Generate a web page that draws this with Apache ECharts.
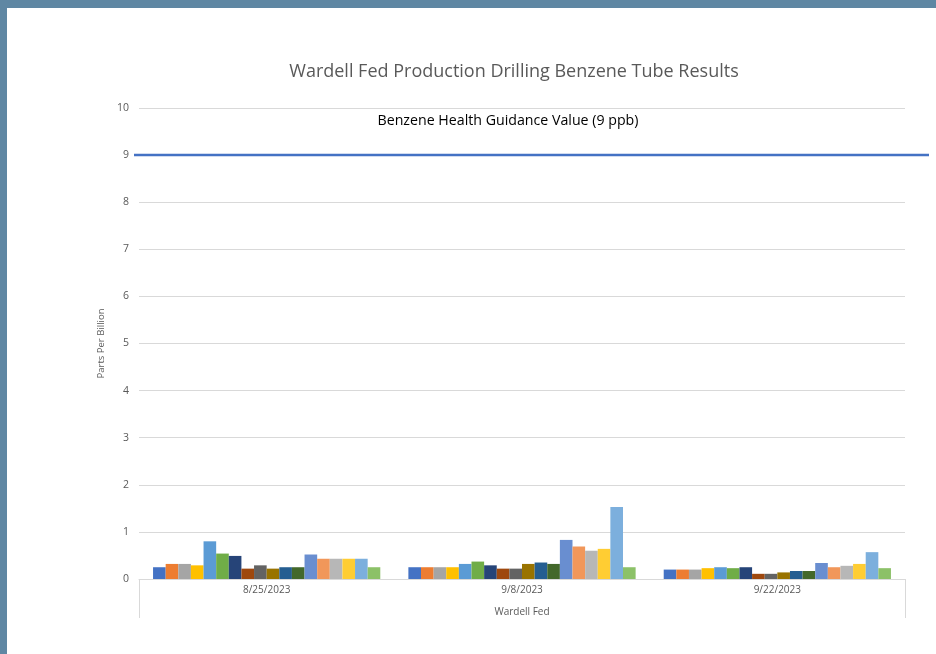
<!DOCTYPE html>
<html>
<head>
<meta charset="utf-8">
<script src="https://cdn.jsdelivr.net/npm/echarts@6/dist/echarts.min.js"></script>
<style>
  html, body { margin: 0; padding: 0; background: #ffffff; }
  #chart { position: absolute; left: 0; top: 0; width: 936px; height: 654px; }
  .frame { position: absolute; background: #5f87a3; pointer-events: none; }
</style>
</head>
<body>
<div id="chart"></div>
<div class="frame" style="left:0;top:0;width:936px;height:8px;"></div>
<div class="frame" style="left:0;top:0;width:7px;height:654px;"></div>
<script>
// ---- data ----
const dates = ['8/25/2023', '9/8/2023', '9/22/2023'];
const siteName = 'Wardell Fed';
const guidanceValue = 9;
const guidanceLabel = 'Benzene Health Guidance Value (9 ppb)';
const tubeNames = ['Tube 1','Tube 2','Tube 3','Tube 4','Tube 5','Tube 6','Tube 7','Tube 8','Tube 9',
                   'Tube 10','Tube 11','Tube 12','Tube 13','Tube 14','Tube 15','Tube 16','Tube 17','Tube 18'];
const aug25 = [0.25, 0.32, 0.32, 0.29, 0.80, 0.54, 0.49, 0.22, 0.29, 0.22, 0.25, 0.25, 0.52, 0.43, 0.43, 0.43, 0.43, 0.25];
const sep08 = [0.25, 0.25, 0.25, 0.25, 0.32, 0.37, 0.29, 0.22, 0.22, 0.32, 0.35, 0.32, 0.83, 0.69, 0.60, 0.64, 1.53, 0.25];
const sep22 = [0.20, 0.20, 0.20, 0.23, 0.25, 0.23, 0.25, 0.11, 0.11, 0.14, 0.17, 0.17, 0.34, 0.25, 0.28, 0.32, 0.57, 0.23];
const yTicks = [0, 1, 2, 3, 4, 5, 6, 7, 8, 9, 10];

const palette = ['#4472C4','#ED7D31','#A5A5A5','#FFC000','#5B9BD5','#70AD47','#264478','#9E480E','#636363',
                 '#997300','#255E91','#43682B','#698ED0','#F1975A','#B7B7B7','#FFCD33','#7CAFDD','#8CC168'];

const byDate = [aug25, sep08, sep22];
const FONT = 'Open Sans';

const barSeries = tubeNames.map((name, i) => ({
  name: name,
  type: 'bar',
  xAxisIndex: 0,
  yAxisIndex: 0,
  barGap: '0%',
  barCategoryGap: '11%',
  itemStyle: { color: palette[i] },
  data: byDate.map(arr => arr[i])
}));

const chart = echarts.init(document.getElementById('chart'), null, { renderer: 'canvas' });
chart.setOption({
  backgroundColor: '#ffffff',
  animation: false,
  title: [
    { text: 'Wardell Fed Production Drilling Benzene Tube Results', left: 509, top: 58, textAlign: 'center',
      textStyle: { fontFamily: FONT, fontSize: 18, fontWeight: 'normal', color: '#595959' } },
    { text: guidanceLabel, left: 503, top: 109, textAlign: 'center',
      textStyle: { fontFamily: FONT, fontSize: 14.2, fontWeight: 'normal', color: '#000000' } }
  ],
  grid: [
    { left: 139, right: 31, top: 108, bottom: 75 },
    { left: 134, right: 7, top: 108, bottom: 75 }
  ],
  xAxis: [
    { type: 'category', gridIndex: 0, data: dates, position: 'bottom',
      axisLine: { lineStyle: { color: '#d9d9d9', width: 1 } },
      axisTick: { show: false },
      axisLabel: { fontFamily: FONT, fontSize: 10, color: '#595959', margin: 6 },
      name: siteName, nameLocation: 'middle', nameGap: 28,
      nameTextStyle: { fontFamily: FONT, fontSize: 10, color: '#595959' } },
    { type: 'value', gridIndex: 0, min: 0, max: 1, interval: 1, position: 'bottom',
      axisLine: { show: false },
      axisTick: { show: true, length: 39, lineStyle: { color: '#d9d9d9', width: 1 } },
      axisLabel: { show: false }, splitLine: { show: false } },
    { type: 'value', gridIndex: 1, min: 0, max: 1, show: false }
  ],
  yAxis: [
    { type: 'value', gridIndex: 0, min: yTicks[0], max: yTicks[yTicks.length - 1], interval: 1,
      axisLine: { show: false }, axisTick: { show: false },
      axisLabel: { fontFamily: FONT, fontSize: 10.5, color: '#595959', margin: 10 },
      splitLine: { lineStyle: { color: '#d9d9d9', width: 1 } },
      name: 'Parts Per Billion', nameLocation: 'middle', nameGap: 32,
      nameTextStyle: { fontFamily: FONT, fontSize: 9.5, color: '#595959' } },
    { type: 'value', gridIndex: 1, min: yTicks[0], max: yTicks[yTicks.length - 1], show: false }
  ],
  series: barSeries.concat([
    { name: 'Guidance', type: 'line', xAxisIndex: 2, yAxisIndex: 1, symbol: 'none',
      lineStyle: { color: '#4472C4', width: 2.5 },
      data: [[0, guidanceValue], [1, guidanceValue]] }
  ])
});
</script>
</body>
</html>
